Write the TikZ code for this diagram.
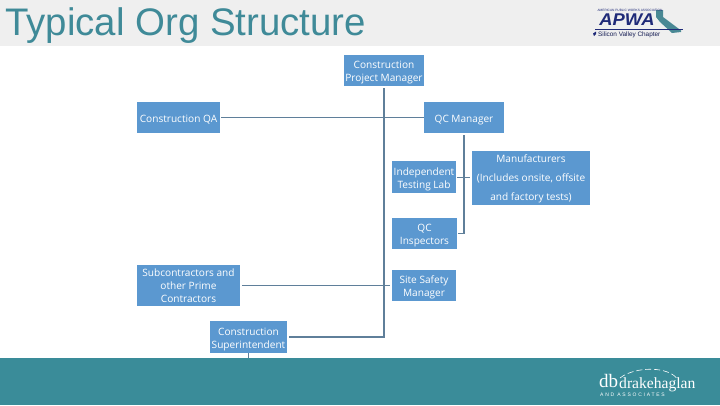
\documentclass[tikz,border=0pt]{standalone}
\usepackage{fontspec}
\usepackage{graphicx}
\setmainfont{Open Sans}
\newfontfamily\titlefont{Liberation Sans}
\newfontfamily\logosans{Liberation Sans}
\newfontfamily\logoserif{Liberation Serif}
\usetikzlibrary{calc}
\definecolor{boxblue}{HTML}{5B98D0}
\definecolor{linecol}{HTML}{5F7F9A}
\definecolor{teal}{HTML}{3A8C99}
\definecolor{titleteal}{HTML}{3F8A98}
\definecolor{band}{HTML}{EFEFEF}
\definecolor{navy}{HTML}{1F2A78}
\newcommand\orgtext[2][-4pt]{\raisebox{#1}[0pt][0pt]{\begin{tabular}{@{}c@{}}#2\end{tabular}}}
\tikzset{
  orgbox/.style={fill=boxblue,text=white,inner sep=0pt,font=\fontsize{10.1}{13.2}\selectfont},
  link/.style={draw=linecol,line width=1.5pt},
}
\begin{document}
\begin{tikzpicture}[x=1pt,y=-1pt]
\useasboundingbox (0,0) rectangle (720,405);
\fill[white] (0,0) rectangle (720,405);
\fill[band] (0,0) rectangle (720,46);
\fill[teal] (0,358) rectangle (720,405);
\node[anchor=west,inner sep=0pt,text=titleteal,font=\titlefont\fontsize{38.4}{38.4}\selectfont] (title) at (5,26) {Typical Org Structure};

\node[orgbox,minimum width=80pt,minimum height=31pt] (pm) at (384,70.5) {\orgtext{Construction\\Project Manager}};
\node[orgbox,minimum width=83pt,minimum height=31pt] (qa) at (178.5,117.5) {\orgtext[-4.5pt]{Construction QA}};
\node[orgbox,minimum width=79.5pt,minimum height=31pt] (qc) at (464,117.5) {\orgtext[-4.5pt]{QC Manager}};
\node[orgbox,minimum width=64pt,minimum height=32pt] (lab) at (424,177) {\orgtext[-4.5pt]{Independent\\Testing Lab}};
\node[orgbox,minimum width=118pt,minimum height=54pt,font=\fontsize{10.1}{19.2}\selectfont] (mfg) at (531,178) {\orgtext[-2.3pt]{Manufacturers\\(Includes onsite, offsite\\and factory tests)}};
\node[orgbox,minimum width=65pt,minimum height=31pt] (insp) at (424.5,233.5) {\orgtext{QC\\Inspectors}};
\node[orgbox,minimum width=64pt,minimum height=31pt] (safety) at (424,285.5) {\orgtext{Site Safety\\Manager}};
\node[orgbox,minimum width=103pt,minimum height=41pt] (sub) at (188.5,285.5) {\orgtext{Subcontractors and\\other Prime\\Contractors}};
\node[orgbox,minimum width=77pt,minimum height=32pt] (super) at (248.5,337) {\orgtext[-4.5pt]{Construction\\Superintendent}};

\coordinate (spine) at (pm.south);
\coordinate (qcdrop) at (qc.south);
\coordinate (stub) at (super.south |- 0,358);

\draw[link] ([yshift=-2pt]pm.south) -- (spine |- super.east) -- ([xshift=2pt]super.east);
\draw[link] ([xshift=1pt]qa.east) -- (qc.west);
\draw[link] ([xshift=2pt]sub.east) -- ([xshift=-2pt]safety.west);
\draw[link] ([yshift=-2pt]qc.south) -- (qcdrop |- insp.east) -- ([xshift=1pt]insp.east);
\draw[link,line width=1pt,shorten >=2pt,shorten <=1pt] (lab.east) -- (mfg.west |- lab.east);
\draw[link,line width=0.8pt] (super.south) -- (stub);

% APWA logo
\fill[titleteal!85!gray] (656,10) -- (663,10) -- (663,17) -- (681,30.5) -- (681,32) -- (672,33) -- (660,22) -- (656,17) -- cycle;
\draw[navy,line width=1.1pt] (595,29.5) -- (683,29.5);
\node[inner sep=0pt,text=navy,font=\logosans\fontsize{3.2}{3.2}\selectfont] (assocname) at (630,10) {AMERICAN PUBLIC WORKS ASSOCIATION};
\node[inner sep=0pt,text=navy,font=\logosans\bfseries\itshape\fontsize{17}{17}\selectfont] (apwa) at (627,20) {\scalebox{1.08}[1]{APWA}};
\fill[navy] (593,33.5) -- (596,31.5) -- (596,34) -- (594,36) -- cycle;
\node[anchor=west,inner sep=0pt,text=navy!70!black,font=\logosans\fontsize{6.4}{6.4}\selectfont] (chapter) at (598,34.5) {Silicon Valley Chapter};

% drake haglan logo
\draw[white,line width=0.6pt,dash pattern=on 6pt off 3pt] (620,378) .. controls (635,366) and (670,366) .. (678,380);
\node[anchor=west,inner sep=0pt,text=white,font=\logoserif\fontsize{19}{19}\selectfont] (db) at (599,381) {db};
\node[anchor=west,inner sep=0pt,text=white,font=\logoserif\fontsize{15.6}{15.6}\selectfont] (drake) at (619,385) {drakehaglan};
\node[anchor=west,inner sep=0pt,text=white,font=\logosans\addfontfeature{LetterSpace=35}\fontsize{5}{5}\selectfont] (assoc) at (600,394.5) {AND ASSOCIATES};
\end{tikzpicture}
\end{document}
